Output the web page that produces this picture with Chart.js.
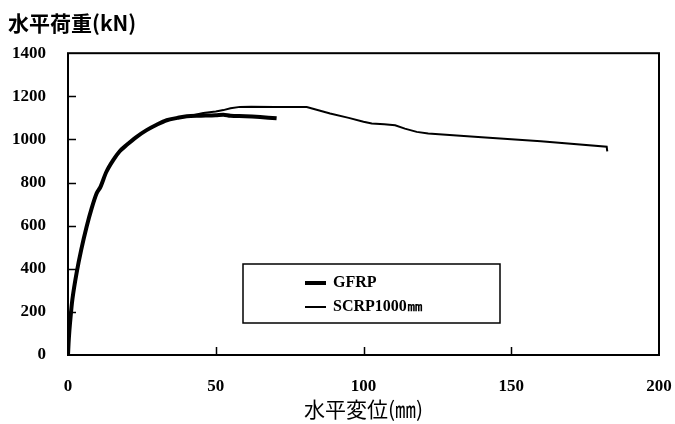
<!DOCTYPE html>
<html>
<head>
<meta charset="utf-8">
<script src="https://cdn.jsdelivr.net/npm/chart.js@4/dist/chart.umd.min.js"></script>
<style>
  body { margin: 0; background: #fff; }
  #wrap { width: 675px; height: 424px; }
</style>
</head>
<body>
<div id="wrap"><canvas id="c"></canvas></div>
<script>
// values
const gfrpX = [0, 0.3, 0.7, 1.5, 2.9, 4.5, 6.3, 8, 9.7, 11, 13, 15.3, 17.5, 19.9, 23, 26.6, 30, 33.4, 37, 40.2, 45, 50, 52.6, 55, 60, 65, 70.6]
const gfrpY = [0, 80, 150, 260, 380, 490, 595, 680, 750, 780, 850, 904, 945, 975, 1010, 1043, 1068, 1089, 1100, 1108, 1110, 1112, 1115, 1110, 1108, 1104, 1098]
const scrpX = [0, 0.3, 0.7, 1.5, 2.9, 4.5, 6.3, 8, 9.7, 11, 13, 15.3, 17.5, 19.9, 23, 26.6, 30, 33.4, 37, 40, 45.8, 50, 52.6, 55, 58.2, 62, 70, 80.8, 88.7, 95, 100, 102.8, 107, 110.7, 114, 118, 121.9, 140, 160, 182.3, 182.5]
const scrpY = [0, 80, 150, 260, 380, 490, 595, 680, 750, 780, 850, 904, 945, 975, 1010, 1043, 1068, 1089, 1100, 1105, 1123, 1130, 1136, 1145, 1151, 1152, 1150, 1150, 1120, 1100, 1082, 1074, 1070, 1066, 1050, 1035, 1028, 1010, 992, 966, 945]
const seriesNames = ['GFRP', 'SCRP1000㎜']
const xTicks = [0, 50, 100, 150, 200]
const yTicks = [0, 200, 400, 600, 800, 1000, 1200, 1400]

const numFont = { family: 'Liberation Serif', size: 17, weight: 'bold' }
const cjkFont = { family: 'Noto Sans CJK JP', size: 21 }

function pts(xs, ys) {
    return xs.map((x, i) => ({ x: x, y: ys[i] }))
}

// frame round the plot, inward ticks, boxed legend
const framePlugin = {
    id: 'frame',
    afterDraw(chart) {
        const ctx = chart.ctx
        const a = chart.chartArea
        const xs = chart.scales.x
        const ys = chart.scales.y
        ctx.save()
        ctx.strokeStyle = '#000'
        ctx.lineWidth = 2
        ctx.strokeRect(a.left, a.top, a.right - a.left, a.bottom - a.top)
        ctx.lineWidth = 1.5
        ctx.beginPath()
        xTicks.slice(1, -1).forEach(v => {
            const px = Math.round(xs.getPixelForValue(v)) + 0.5
            ctx.moveTo(px, a.bottom)
            ctx.lineTo(px, a.bottom - 8)
        })
        yTicks.slice(1, -1).forEach(v => {
            const py = Math.round(ys.getPixelForValue(v)) + 0.5
            ctx.moveTo(a.left, py)
            ctx.lineTo(a.left + 8, py)
        })
        ctx.stroke()

        // legend box
        const bx = 243, by = 264, bw = 257, bh = 59
        ctx.fillStyle = '#fff'
        ctx.fillRect(bx, by, bw, bh)
        ctx.lineWidth = 1.5
        ctx.strokeRect(bx, by, bw, bh)
        ctx.font = 'bold 16px "Liberation Serif"'
        ctx.textBaseline = 'middle'
        ctx.fillStyle = '#000'
        chart.data.datasets.forEach((ds, i) => {
            const ly = by + 19 + i * 24
            ctx.lineWidth = ds.borderWidth
            ctx.beginPath()
            ctx.moveTo(305, ly)
            ctx.lineTo(326, ly)
            ctx.stroke()
            ctx.fillText(ds.label, 333, ly)
        })
        ctx.restore()
    }
}

new Chart(document.getElementById('c'), {
    type: 'line',
    data: {
        datasets: [
            { label: seriesNames[0], data: pts(gfrpX, gfrpY), borderColor: '#000', borderWidth: 4, pointRadius: 0, tension: 0.3 },
            { label: seriesNames[1], data: pts(scrpX, scrpY), borderColor: '#000', borderWidth: 2, pointRadius: 0, tension: 0 }
        ]
    },
    options: {
        responsive: true,
        maintainAspectRatio: false,
        animation: false,
        layout: { padding: { left: 8, right: 0, top: 0, bottom: 0 } },
        plugins: {
            legend: { display: false },
            tooltip: { enabled: false },
            title: {
                display: true,
                text: '水平荷重(kN)',
                align: 'start',
                color: '#000',
                font: cjkFont,
                padding: { top: 10, bottom: 18 }
            }
        },
        scales: {
            x: {
                type: 'linear',
                min: 0, max: 200,
                afterBuildTicks(s) { s.ticks = xTicks.map(v => ({ value: v })) },
                afterFit(s) { s.height = 69; s.paddingRight = 16; s.paddingLeft = 0 },
                grid: { display: false },
                border: { display: false },
                ticks: { color: '#000', font: numFont, padding: 13, maxRotation: 0, callback: v => String(v) },
                title: { display: true, text: '水平変位(㎜)', color: '#000', font: cjkFont, padding: { top: 0, bottom: 2 } }
            },
            y: {
                min: 0, max: 1400,
                afterBuildTicks(s) { s.ticks = yTicks.map(v => ({ value: v })) },
                afterFit(s) { s.width = 60 },
                grid: { display: false },
                border: { display: false },
                ticks: { color: '#000', font: numFont, padding: 14, callback: v => String(v) }
            }
        }
    },
    plugins: [framePlugin]
})
</script>
</body>
</html>
